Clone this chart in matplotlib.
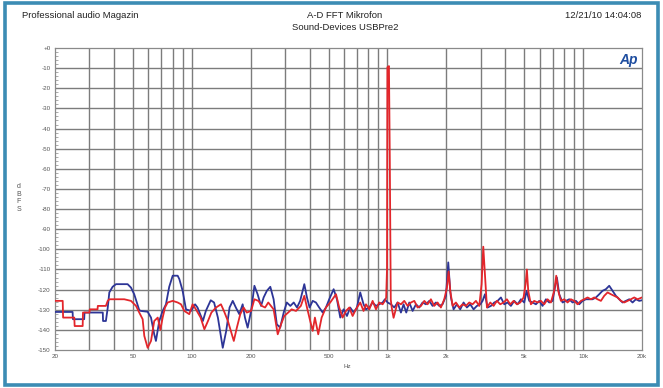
import numpy as np
import matplotlib
matplotlib.use("Agg")
import matplotlib.pyplot as plt
from matplotlib.patches import Rectangle

plt.rcParams['font.family'] = ['Liberation Sans', 'DejaVu Sans']

# Blue trace (Hz, dBFS)
blue_f = [20, 24.6, 24.7, 28.2, 28.3, 35.1, 35.2, 36.4, 37.2, 37.9, 39.4, 41.0, 47.0, 48.9,
          50.8, 53.9, 55.0, 59.5, 61.9, 64.3, 65.6, 68.2, 71.0, 73.8, 76.7, 79.9, 84.7,
          86.4, 89.8, 93.4, 99.1, 104, 107, 114, 118, 125, 130, 136, 144, 150, 156, 162,
          168, 175, 182, 187, 193, 201, 209, 217, 226, 233, 242, 252, 262, 272, 283, 295,
          306, 319, 332, 345, 358, 376, 388, 400, 415, 431, 448, 467, 485, 504, 531, 552,
          574, 597, 621, 645, 672, 698, 726, 755, 777, 808, 840, 874, 908, 945, 971, 1002,
          1042, 1084, 1127, 1172, 1209, 1248, 1293, 1345, 1399, 1455, 1512, 1573, 1636,
          1701, 1769, 1840, 1913, 1991, 2046, 2095, 2111, 2178, 2265, 2356, 2450, 2548,
          2650, 2756, 2866, 2982, 3065, 3150, 3250, 3381, 3516, 3656, 3802, 3954, 4111,
          4276, 4448, 4626, 4811, 5002, 5141, 5305, 5518, 5740, 5967, 6206, 6454, 6712,
          6982, 7176, 7347, 7551, 7853, 8169, 8493, 8833, 9190, 9555, 9938, 10330, 10750,
          11180, 11630, 12090, 12570, 13070, 13600, 14150, 14710, 15300, 15910, 16550,
          17210, 17900, 18610, 19360, 20000]
blue_db = [-131.1, -131.1, -134.7, -134.7, -131.4, -131.4, -135.6, -135.6, -129.0, -121.4,
           -118.6, -117.3, -117.3, -119.0, -122.3, -130.2, -130.6, -131.0, -133.9, -142.2,
           -145.5, -135.6, -130.6, -127.3, -118.6, -113.1, -113.1, -114.8, -120.6, -129.8,
           -130.6, -127.3, -128.9, -135.6, -130.6, -125.3, -126.4, -133.9, -148.9, -140.5,
           -128.9, -125.6, -128.9, -132.2, -127.3, -133.9, -138.9, -130.6, -118.1, -122.3,
           -128.1, -123.9, -120.6, -118.6, -124.8, -137.2, -138.9, -131.4, -126.4, -128.1,
           -126.4, -128.9, -125.6, -117.3, -123.9, -128.9, -125.6, -126.4, -128.9, -131.4,
           -128.9, -124.8, -119.8, -124.8, -133.9, -129.8, -133.1, -128.9, -131.4, -128.9,
           -121.4, -127.3, -129.8, -128.9, -126.4, -128.1, -127.3, -126.4, -124.8, -126.4,
           -127.3, -128.9, -126.4, -131.4, -127.3, -131.4, -126.4, -130.6, -127.3, -128.9,
           -126.4, -127.3, -125.6, -128.1, -126.4, -128.1, -127.3, -123.1, -106.5, -121.0,
           -123.9, -129.8, -127.3, -129.8, -126.4, -128.9, -127.3, -129.8, -128.1, -127.3,
           -125.6, -122.3, -128.9, -128.1, -126.4, -125.6, -123.9, -127.3, -126.4, -128.1,
           -125.6, -127.3, -124.8, -126.4, -120.6, -125.6, -126.4, -127.3, -125.6, -128.1,
           -124.8, -126.4, -125.6, -119.0, -114.0, -122.3, -126.4, -125.6, -124.8, -126.4,
           -125.6, -127.3, -125.6, -124.8, -124.8, -124.8, -123.9, -122.3, -120.6, -119.8,
           -118.1, -120.6, -123.1, -124.8, -126.4, -125.6, -124.8, -126.4, -124.8, -125.6,
           -125.3]

# Red trace (Hz, dBFS)
red_f = [20, 21.9, 22.0, 25.1, 25.2, 27.7, 27.8, 30.0, 30.1, 33.0, 33.1, 36.4, 37.2, 37.9,
         45.2, 48.9, 51.9, 53.9, 56.1, 57.2, 59.5, 61.9, 64.3, 67.0, 69.1, 71.0, 73.0,
         75.3, 79.9, 84.7, 88.1, 91.6, 97.1, 101, 105, 111, 116, 121, 126, 133, 141, 146,
         153, 164, 170, 177, 184, 191, 201, 209, 219, 228, 237, 246, 262, 275, 286, 297,
         311, 324, 341, 361, 376, 388, 403, 415, 426, 443, 461, 485, 510, 546, 567, 590,
         614, 638, 664, 690, 726, 755, 777, 808, 840, 874, 908, 945, 971, 985, 995, 1000,
         1018, 1028, 1040, 1052, 1075, 1127, 1172, 1219, 1268, 1319, 1372, 1426, 1484,
         1543, 1604, 1668, 1734, 1804, 1876, 1952, 2014, 2054, 2095, 2153, 2239, 2328,
         2422, 2518, 2619, 2724, 2833, 2947, 3029, 3089, 3150, 3225, 3354, 3488, 3627,
         3772, 3923, 4079, 4243, 4413, 4589, 4774, 4963, 5082, 5161, 5243, 5410, 5625,
         5853, 6085, 6326, 6581, 6846, 7120, 7290, 7463, 7702, 8010, 8328, 8661, 9009,
         9370, 9743, 10130, 10540, 10960, 11400, 11850, 12330, 12820, 13340, 13870, 14420,
         15000, 15600, 16230, 16870, 17550, 18250, 18980, 20000]
red_db = [-125.6, -125.6, -133.9, -133.9, -138.1, -138.1, -131.4, -131.4, -129.8, -129.8,
          -128.1, -128.1, -125.6, -124.8, -124.8, -125.6, -128.1, -131.4, -134.7, -143.0,
          -148.9, -145.5, -135.6, -133.9, -140.0, -133.9, -128.9, -126.4, -125.6, -126.4,
          -127.3, -130.6, -132.2, -127.3, -129.8, -133.9, -139.7, -135.6, -131.4, -128.9,
          -127.3, -130.6, -135.6, -145.5, -138.9, -132.2, -128.9, -131.4, -130.6, -124.8,
          -125.6, -128.1, -128.9, -126.4, -129.8, -142.2, -137.2, -133.1, -131.4, -129.8,
          -130.6, -128.1, -123.1, -128.9, -135.6, -140.5, -133.9, -142.2, -133.9, -128.9,
          -126.4, -122.3, -128.9, -133.9, -130.6, -128.9, -133.1, -129.8, -126.4, -130.6,
          -127.3, -129.8, -125.6, -129.8, -126.4, -127.3, -125.6, -124.0, -110.0, -9.5,
          -9.0, -54.0, -125.0, -129.0, -134.0, -126.4, -127.3, -125.6, -128.1, -126.4,
          -125.6, -128.9, -128.1, -125.6, -127.3, -124.8, -128.1, -126.4, -128.9, -124.8,
          -119.0, -111.0, -120.6, -128.1, -126.4, -128.9, -127.3, -128.1, -126.4, -127.3,
          -125.6, -128.1, -117.3, -98.7, -112.3, -128.9, -126.4, -128.1, -125.6, -127.3,
          -126.4, -124.8, -127.3, -125.6, -127.3, -126.4, -123.9, -117.3, -110.0, -120.6,
          -127.3, -125.6, -126.4, -125.6, -127.3, -124.8, -126.4, -120.6, -113.1, -120.6,
          -125.6, -124.8, -126.4, -124.8, -125.6, -127.3, -125.6, -124.8, -123.9, -124.8,
          -123.9, -124.8, -125.6, -123.1, -121.4, -122.3, -123.1, -123.9, -125.6, -126.4,
          -125.6, -124.8, -123.9, -124.8, -123.9]

x_ticks = [20, 50, 100, 200, 500, 1000, 2000, 5000, 10000, 20000]
x_labels = ['20', '50', '100', '200', '500', '1k', '2k', '5k', '10k', '20k']
y_ticks = list(range(0, -151, -10))
y_labels = ['+0'] + [str(v) for v in y_ticks[1:]]

fig = plt.figure(figsize=(6.63, 3.88), dpi=100)
fig.patches.append(Rectangle((5 / 663, 3 / 388), 653 / 663, 382 / 388, transform=fig.transFigure,
                             fill=False, edgecolor='#3c8cb4', linewidth=2.6))

ax = fig.add_axes([55 / 663, 1 - 350 / 388, 587 / 663, 302 / 388])
ax.set_xscale('log')
ax.set_xlim(20, 20000)
ax.set_ylim(-150, 0)

grid_x = list(range(30, 100, 10)) + list(range(100, 1000, 100)) + list(range(1000, 10001, 1000))
for g in grid_x:
    ax.axvline(g, color='#7c7c7c', lw=1.0, zorder=1)
for g in y_ticks[1:-1]:
    ax.axhline(g, color='#7c7c7c', lw=1.0, zorder=1)

ax.plot(blue_f, blue_db, color='#2d3597', lw=1.3, zorder=3)
ax.plot(red_f, red_db, color='#e3262b', lw=1.3, zorder=4)

ax.set_xticks(x_ticks)
ax.set_xticklabels(x_labels)
ax.xaxis.set_minor_locator(matplotlib.ticker.NullLocator())
ax.set_yticks(y_ticks)
ax.set_yticklabels(y_labels)
ax.set_yticks(np.arange(-150, 0.1, 2), minor=True)
ax.tick_params(axis='both', which='major', labelsize=4.5, labelcolor='#555555',
               length=0, pad=3)
ax.tick_params(axis='y', which='minor', direction='in', length=2.5, color='#888888', width=0.5)
for s in ax.spines.values():
    s.set_color('#8a8a8a')
    s.set_linewidth(0.9)

ax.text(0.992, 0.985, 'Ap', transform=ax.transAxes, ha='right', va='top',
        fontsize=10, fontweight='bold', fontstyle='italic', color='#1f4ea0')

fig.text(22 / 663, 1 - 16 / 388, 'Professional audio Magazin', fontsize=6.8, ha='left', va='center',
         color='#222222')
fig.text(345 / 663, 1 - 16 / 388, 'A-D FFT Mikrofon', fontsize=6.8, ha='center', va='center',
         color='#222222')
fig.text(345 / 663, 1 - 28 / 388, 'Sound-Devices USBPre2', fontsize=6.8, ha='center', va='center',
         color='#222222')
fig.text(641 / 663, 1 - 16 / 388, '12/21/10 14:04:08', fontsize=6.8, ha='right', va='center',
         color='#222222')
fig.text(19 / 663, 1 - 198 / 388, 'd\nB\nF\nS', fontsize=5, ha='center', va='center',
         color='#555555', linespacing=1.1, rotation=0)
fig.text(347 / 663, 1 - 366 / 388, 'Hz', fontsize=4.5, ha='center', va='center', color='#555555')

fig.savefig('out.png', dpi=100)
